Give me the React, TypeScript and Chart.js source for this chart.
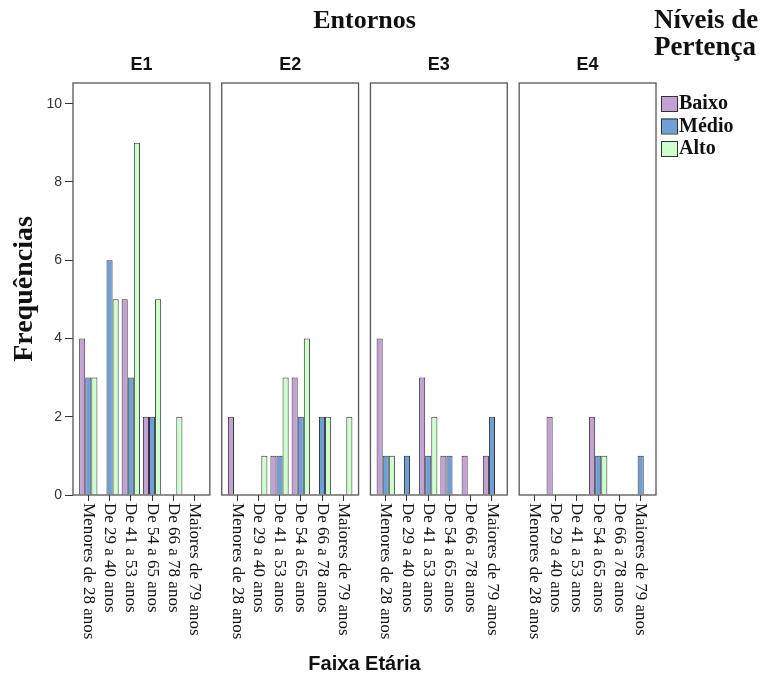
import React, { useEffect, useRef } from "react";
import { Chart, registerables } from "chart.js";

Chart.register(...registerables);

// ---- data ----
const panelNames = ["E1", "E2", "E3", "E4"];
const ageGroups = [
  "Menores de 28 anos",
  "De 29 a 40 anos",
  "De 41 a 53 anos",
  "De 54 a 65 anos",
  "De 66 a 78 anos",
  "Maiores de 79 anos",
];
const seriesNames = ["Baixo", "Médio", "Alto"];
// one row per panel (E1..E4), one value per age group
const baixo = [
  [4, 0, 5, 2, 0, 0],
  [2, 0, 1, 3, 0, 0],
  [4, 0, 3, 1, 1, 1],
  [0, 2, 0, 2, 0, 0],
];
const medio = [
  [3, 6, 3, 2, 0, 0],
  [0, 0, 1, 2, 2, 0],
  [1, 1, 1, 1, 0, 2],
  [0, 0, 0, 1, 0, 1],
];
const alto = [
  [3, 5, 9, 5, 2, 0],
  [0, 1, 3, 4, 2, 2],
  [1, 0, 2, 0, 0, 0],
  [0, 0, 0, 1, 0, 0],
];
const yTicks = [0, 2, 4, 6, 8, 10];

const seriesValues = [baixo, medio, alto];
const seriesColors = ["#C4A1D4", "#6E9FD6", "#CCFFCC"];

const STRIDE = ageGroups.length + 1; // one empty slot between panels
const tickPositions = panelNames.flatMap((_, p) => ageGroups.map((_, c) => p * STRIDE + c));
const toPoints = (rows: number[][]) =>
  rows.flatMap((vals, p) => vals.map((v, c) => ({ x: p * STRIDE + c, y: v === 0 ? null : v })));

const SERIF = "'Liberation Serif', 'DejaVu Serif', serif";
const SANS = "'Liberation Sans', Arial, sans-serif";
const FRAME_EXT = 0.72;

const decorPlugin = {
  id: "decor",
  afterDraw(chart: any) {
    const { ctx, chartArea, scales } = chart;
    const xs = scales.x;
    ctx.save();
    // panel frames and headers
    panelNames.forEach((name, p) => {
      const l = xs.getPixelForValue(p * STRIDE - FRAME_EXT);
      const r = xs.getPixelForValue(p * STRIDE + ageGroups.length - 1 + FRAME_EXT);
      ctx.strokeStyle = "#555";
      ctx.lineWidth = 1.3;
      ctx.strokeRect(l, chartArea.top, r - l, chartArea.bottom - chartArea.top);
      ctx.fillStyle = "#111";
      ctx.font = `bold 18px ${SANS}`;
      ctx.textAlign = "center";
      ctx.textBaseline = "middle";
      ctx.fillText(name, (l + r) / 2, 65);
      // rotated category labels
      ctx.font = `17px ${SERIF}`;
      ageGroups.forEach((lab, c) => {
        const x = xs.getPixelForValue(p * STRIDE + c);
        ctx.save();
        ctx.translate(x, chartArea.bottom + 8);
        ctx.rotate(Math.PI / 2);
        ctx.textAlign = "left";
        ctx.textBaseline = "middle";
        ctx.fillStyle = "#111";
        ctx.fillText(lab, 0, 0);
        ctx.restore();
      });
    });
    // title
    ctx.fillStyle = "#111";
    ctx.font = `bold 26px ${SERIF}`;
    ctx.textAlign = "center";
    ctx.textBaseline = "middle";
    ctx.fillText("Entornos", (chartArea.left + chartArea.right) / 2, 21);
    // legend
    ctx.textAlign = "left";
    ctx.font = `bold 27px ${SERIF}`;
    ctx.fillText("Níveis de", 654, 21);
    ctx.fillText("Pertença", 654, 48);
    chart.data.datasets.forEach((ds: any, i: number) => {
      const top = 96 + i * 22.5;
      ctx.fillStyle = ds.backgroundColor;
      ctx.fillRect(661, top, 16, 15);
      ctx.strokeStyle = "#333";
      ctx.lineWidth = 1;
      ctx.strokeRect(661.5, top + 0.5, 16, 15);
      ctx.fillStyle = "#111";
      ctx.font = `bold 20px ${SERIF}`;
      ctx.textBaseline = "middle";
      ctx.fillText(ds.label, 679, top + 8);
    });
    ctx.restore();
  },
};

export default function App() {
  const ref = useRef<HTMLCanvasElement>(null);
  useEffect(() => {
    if (!ref.current) return;
    const chart = new Chart(ref.current, {
      type: "bar",
      data: {
        datasets: seriesNames.map((name, s) => ({
          label: name,
          data: toPoints(seriesValues[s]) as any,
          backgroundColor: seriesColors[s],
          borderColor: "#333",
          borderWidth: 1,
          categoryPercentage: 0.86,
          barPercentage: 1,
        })),
      },
      options: {
        animation: false,
        responsive: false,
        layout: { padding: { top: 83, right: 109, left: 0, bottom: 0 } },
        plugins: { legend: { display: false }, tooltip: { enabled: false } },
        scales: {
          x: {
            type: "linear",
            offset: false,
            min: -FRAME_EXT,
            max: (panelNames.length - 1) * STRIDE + ageGroups.length - 1 + FRAME_EXT,
            afterBuildTicks: (s: any) => {
              s.ticks = tickPositions.map((v) => ({ value: v }));
            },
            afterFit: (s: any) => {
              s.height = 183;
            },
            ticks: { display: false },
            grid: { drawOnChartArea: false, offset: false, tickLength: 6, color: "#333" },
            border: { display: false },
            title: {
              display: true,
              text: "Faixa Etária",
              color: "#111",
              font: { family: SANS, size: 20, weight: "bold" },
              padding: { top: 0, bottom: 2 },
            },
          },
          y: {
            min: 0,
            max: 10.53,
            afterBuildTicks: (s: any) => {
              s.ticks = yTicks.map((v) => ({ value: v }));
            },
            afterFit: (s: any) => {
              s.width = 73;
            },
            ticks: { padding: 3, color: "#333", font: { family: SANS, size: 14 } },
            grid: { drawOnChartArea: false, tickLength: 8, color: "#333" },
            border: { display: false },
            title: {
              display: true,
              text: "Frequências",
              color: "#111",
              font: { family: SERIF, size: 28, weight: "bold" },
              padding: { top: 8, bottom: 0 },
            },
          },
        },
      },
      plugins: [decorPlugin],
    });
    return () => chart.destroy();
  }, []);
  return (
    <div style={{ position: "fixed", left: 0, top: 0, width: 765, height: 678, background: "#fff" }}>
      <canvas ref={ref} width={765} height={678} style={{ display: "block" }} />
    </div>
  );
}
